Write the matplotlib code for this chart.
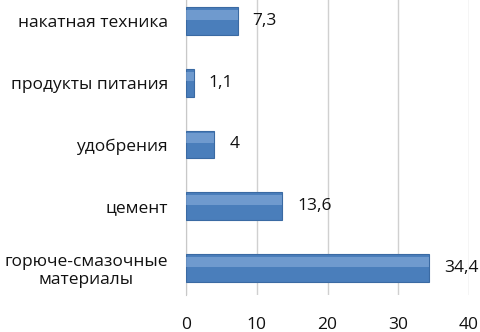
import numpy as np
import matplotlib.pyplot as plt

# данные
categories = ["горюче-смазочные\nматериалы", "цемент", "удобрения",
              "продукты питания", "накатная техника"]
values = [34.4, 13.6, 4, 1.1, 7.3]
labels = ["34,4", "13,6", "4", "1,1", "7,3"]
xticks = [0, 10, 20, 30, 40]

plt.rcParams["font.family"] = ["Open Sans", "DejaVu Sans"]

fig = plt.figure(figsize=(4.8, 3.32), dpi=100)
ax = fig.add_axes([0.3875, 0.1114, 0.5896, 0.8886])

y = np.arange(len(categories))
ax.barh(y, values, height=0.45, color="#4a7ebb",
        edgecolor="#3a6aa3", linewidth=0.8, zorder=3)
# мягкий блик сверху
ax.barh(y + 0.1, values, height=0.16, color="#9dbde6", alpha=0.45,
        linewidth=0, zorder=4)

for yi, v, t in zip(y, values, labels):
    ax.text(v + 2.1, yi, t, va="center", ha="left", fontsize=12.5,
            color="#111111")

ax.set_xlim(0, 40)
ax.set_ylim(-0.44, 4.34)
ax.set_xticks(xticks)
ax.set_xticklabels([str(t) for t in xticks], fontsize=12.5, color="#111111")
ax.set_yticks(y)
ax.set_yticklabels(categories, fontsize=12.5, color="#111111",
                   multialignment="center")
ax.tick_params(axis="both", length=0)
ax.tick_params(axis="x", pad=16)
ax.tick_params(axis="y", pad=13)

ax.grid(True, axis="x", color="#d0d0d0", linewidth=1, zorder=0)
for s in ["top", "right", "bottom"]:
    ax.spines[s].set_visible(False)
ax.spines["left"].set_color("#c8c8c8")

fig.savefig("out.png", dpi=100, facecolor="white")
